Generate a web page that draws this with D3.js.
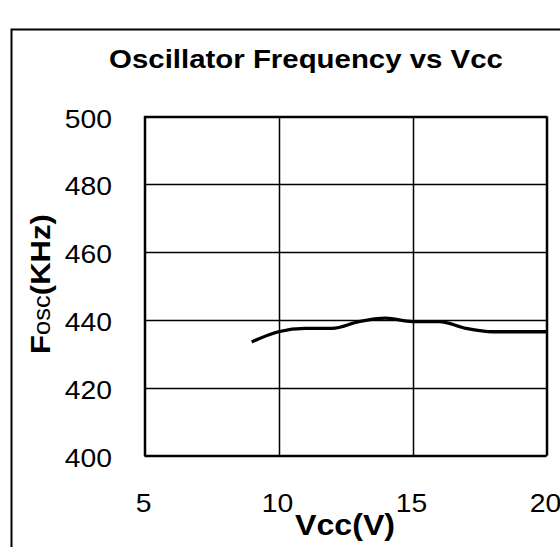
<!DOCTYPE html>
<html>
<head>
<meta charset="utf-8">
<script src="https://cdn.jsdelivr.net/npm/d3@7"></script>
<style>
  body { margin: 0; background: #fff; }
  text { font-family: "Liberation Sans", Arial, sans-serif; fill: #000; }
</style>
</head>
<body>
<svg id="chart" width="560" height="547"></svg>
<script>
const vcc = [9, 10, 11, 12, 13, 14, 15, 16, 17, 18, 19, 20];
const fosc = [433.5, 436.5, 437.5, 437.5, 439.5, 440.5, 439.5, 439.5, 437.5, 436.5, 436.5, 436.5];
const xTicks = [5, 10, 15, 20];
const yTicks = [400, 420, 440, 460, 480, 500];
const title = "Oscillator Frequency vs Vcc";

const SX = 1.11; // horizontal stretch of the original fonts

const svg = d3.select("#chart");
svg.append("rect").attr("x", 0).attr("y", 0).attr("width", 560).attr("height", 547).attr("fill", "#fff");

// outer frame
svg.append("rect").attr("x", 11.5).attr("y", 29.5).attr("width", 600).attr("height", 600)
  .attr("fill", "none").attr("stroke", "#000").attr("stroke-width", 2);

const m = { left: 144.5, right: 546.5, top: 116.5, bottom: 455.5 };
const x = d3.scaleLinear().domain([5, 20]).range([m.left, m.right]);
const y = d3.scaleLinear().domain([400, 500]).range([m.bottom, m.top]);

// grid
const g = svg.append("g");
g.selectAll(".hg").data(yTicks).join("line")
  .attr("x1", m.left).attr("x2", m.right)
  .attr("y1", d => Math.round(y(d)) + 0.5).attr("y2", d => Math.round(y(d)) + 0.5)
  .attr("stroke", "#000").attr("stroke-width", 1.5);
g.selectAll(".vg").data(xTicks).join("line")
  .attr("y1", m.top).attr("y2", m.bottom)
  .attr("x1", d => Math.round(x(d)) + 0.5).attr("x2", d => Math.round(x(d)) + 0.5)
  .attr("stroke", "#000").attr("stroke-width", 1.5);
g.append("rect").attr("x", m.left).attr("y", m.top).attr("width", m.right - m.left).attr("height", m.bottom - m.top)
  .attr("fill", "none").attr("stroke", "#000").attr("stroke-width", 1.5);

// y tick labels
svg.selectAll(".yl").data(yTicks).join("text")
  .attr("transform", d => `translate(112,${y(d) + 11}) scale(${SX},1)`)
  .attr("text-anchor", "end").attr("font-size", 25.5)
  .text(d => d);

// x tick labels
svg.selectAll(".xl").data(xTicks).join("text")
  .attr("transform", d => `translate(${x(d) - 1},512) scale(${SX},1)`)
  .attr("text-anchor", "middle").attr("font-size", 25.5)
  .text(d => d);

// line
const line = d3.line().x((d, i) => x(vcc[i])).y(d => y(d)).curve(d3.curveMonotoneX);
svg.append("path").datum(fosc).attr("d", line)
  .attr("fill", "none").attr("stroke", "#000").attr("stroke-width", 3.3).attr("stroke-linejoin", "round");

// title
svg.append("text").attr("transform", `translate(306,68) scale(${SX},1)`).attr("text-anchor", "middle")
  .attr("font-size", 26.5).attr("font-weight", "bold").text(title);

// x axis label
svg.append("text").attr("transform", `translate(345,535) scale(${SX},1)`).attr("text-anchor", "middle")
  .attr("font-size", 29).attr("font-weight", "bold").text("Vcc(V)");

// y axis label
const yl = svg.append("text").attr("transform", `translate(50,284) rotate(-90) scale(${SX},1)`)
  .attr("text-anchor", "middle");
yl.append("tspan").attr("font-size", 28).attr("font-weight", "bold").text("F");
yl.append("tspan").attr("font-size", 23).attr("font-weight", "normal").text("osc");
yl.append("tspan").attr("font-size", 28).attr("font-weight", "bold").text("(KHz)");
</script>
</body>
</html>
